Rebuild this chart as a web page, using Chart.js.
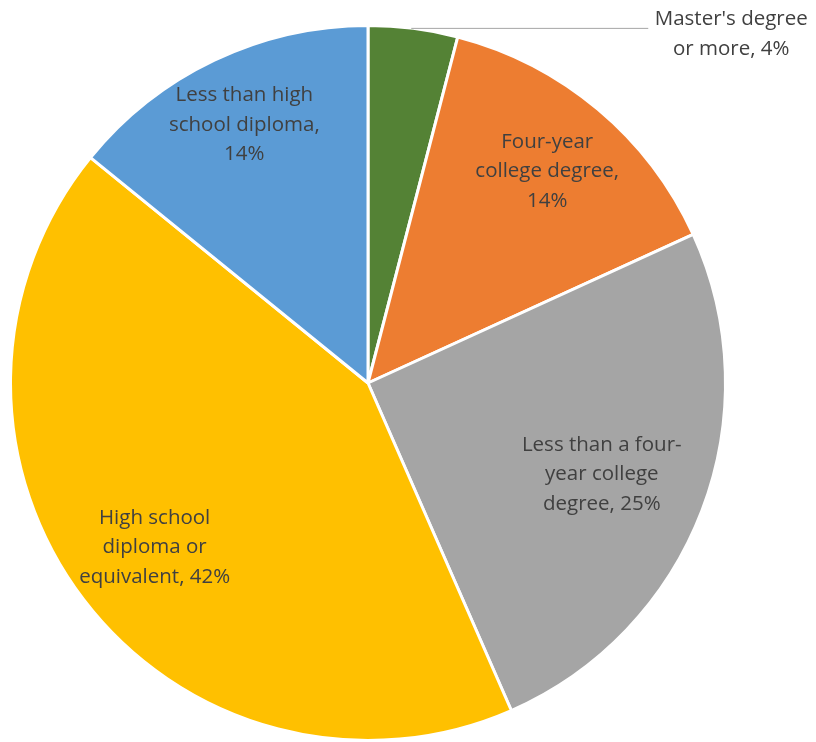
<!DOCTYPE html>
<html>
<head>
<meta charset="utf-8">
<script src="https://cdn.jsdelivr.net/npm/chart.js@4/dist/chart.umd.min.js"></script>
<style>
  html, body { margin: 0; padding: 0; background: #fff; }
  #wrap { width: 816px; height: 742px; }
</style>
</head>
<body>
<div id="wrap"><canvas id="pie"></canvas></div>
<script>
// Bildungsabschluss – Anteile in Prozent
const categories = [
    "Master's degree or more",
    'Four-year college degree',
    'Less than a four-year college degree',
    'High school diploma or equivalent',
    'Less than high school diploma'
];
const shares = [4, 14, 25, 42, 14];

// Beschriftungen, wie sie im Diagramm umbrochen werden
const labelLines = [
    ["Master's degree", 'or more, 4%'],
    ['Four-year', 'college degree,', '14%'],
    ['Less than a four-', 'year college', 'degree, 25%'],
    ['High school', 'diploma or', 'equivalent, 42%'],
    ['Less than high', 'school diploma,', '14%']
];

const sliceColors = ['#548235', '#ED7D31', '#A5A5A5', '#FFC000', '#5B9BD5'];

// Abstand der Beschriftung vom Mittelpunkt (Anteil am Radius), null = außen mit Linie
const labelRadius = [null, 0.78, 0.7, 0.75, 0.805];

const FONT = '20.5px "Open Sans", sans-serif';
const LINE_H = 29.5;

// Plugin: mehrzeilige Beschriftungen in bzw. neben den Segmenten
const sliceLabels = {
    id: 'sliceLabels',
    afterDatasetsDraw(chart) {
        const ctx = chart.ctx;
        const arcs = chart.getDatasetMeta(0).data;
        ctx.save();
        ctx.font = FONT;
        ctx.fillStyle = '#404040';
        ctx.textAlign = 'center';
        ctx.textBaseline = 'middle';
        arcs.forEach((arc, i) => {
            const mid = (arc.startAngle + arc.endAngle) / 2;
            const lines = labelLines[i];
            let cx, cy;
            if (labelRadius[i] === null) {
                // Außenbeschriftung mit waagerechter Führungslinie
                const ex = arc.x + Math.cos(mid) * arc.outerRadius;
                const ey = arc.y + Math.sin(mid) * arc.outerRadius;
                const lineEnd = ex + 235;
                ctx.strokeStyle = '#A6A6A6';
                ctx.lineWidth = 1;
                ctx.beginPath();
                ctx.moveTo(ex - 2, ey);
                ctx.lineTo(lineEnd, ey);
                ctx.stroke();
                cx = lineEnd + 83;
                cy = ey + 6;
            } else {
                const r = arc.outerRadius * labelRadius[i];
                cx = arc.x + Math.cos(mid) * r;
                cy = arc.y + Math.sin(mid) * r + 2;
            }
            const top = cy - (lines.length - 1) * LINE_H / 2;
            lines.forEach((t, j) => ctx.fillText(t, cx, top + j * LINE_H));
        });
        ctx.restore();
    }
};

new Chart(document.getElementById('pie'), {
    type: 'pie',
    data: {
        labels: categories,
        datasets: [{
            data: shares,
            backgroundColor: sliceColors,
            borderColor: '#ffffff',
            borderWidth: 3,
            hoverOffset: 0
        }]
    },
    options: {
        responsive: true,
        maintainAspectRatio: false,
        animation: false,
        events: [],
        layout: { padding: { top: 24, left: 7.5, right: 87.5, bottom: -2 } },
        plugins: {
            legend: { display: false },
            tooltip: { enabled: false }
        }
    },
    plugins: [sliceLabels]
});
</script>
</body>
</html>
